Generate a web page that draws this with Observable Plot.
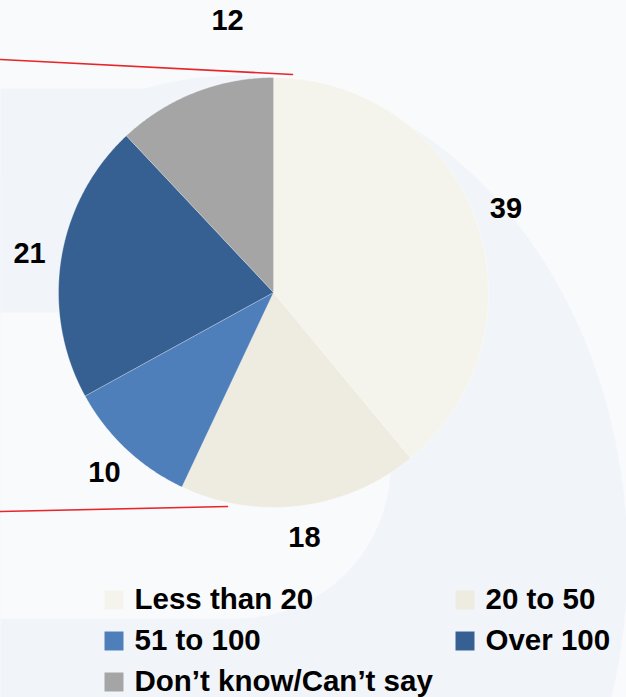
<!DOCTYPE html>
<html><head><meta charset="utf-8">
<script src="https://cdn.jsdelivr.net/npm/d3@7"></script>
<script src="https://cdn.jsdelivr.net/npm/@observablehq/plot@0.6"></script>
<style>
html,body{margin:0;padding:0;background:#f9fafc;}
#chart svg{display:block;}
</style></head><body><div id="chart"></div>
<script>
// ---- data ----
const categories = ["Less than 20", "20 to 50", "51 to 100", "Over 100", "Don’t know/Can’t say"];
const values = [39, 18, 10, 21, 12];
const colors = ["#f5f4ec", "#eeebe0", "#4e7fba", "#366091", "#a5a5a5"];

// ---- layout ----
const W = 626, H = 697;
const cx = 273, cy = 292, R = 215, LR = 247;
const pt = (a, r) => [cx + r * Math.sin(a), cy - r * Math.cos(a)];

const arcs = d3.pie().sort(null).value(d => d)(values);
const slices = arcs.map((a, i) => {
  const n = Math.max(2, Math.ceil((a.endAngle - a.startAngle) / (Math.PI / 360)));
  const ring = [[cx, cy]];
  for (let k = 0; k <= n; k++) ring.push(pt(a.startAngle + (a.endAngle - a.startAngle) * k / n, R));
  ring.push([cx, cy]);
  return {type: "Feature", properties: {category: categories[i], value: values[i]},
          geometry: {type: "Polygon", coordinates: [ring]}};
});
const labels = arcs.map((a, i) => {
  const [x, y] = pt((a.startAngle + a.endAngle) / 2, LR);
  return {x, y, text: String(values[i]), i};
});
const legend = categories.map((c, i) => ({category: c, col: i % 2, row: Math.floor(i / 2)}));

// decorative background shapes
const poly = pts => ({type: "Feature", properties: {}, geometry: {type: "Polygon", coordinates: [[...pts, pts[0]]]}});
const ellipse = poly(d3.range(0, 360, 2).map(t => [235 + 392 * Math.cos(t * Math.PI / 180), 560 + 485 * Math.sin(t * Math.PI / 180)]));
const band = poly([[0, 88], [300, 88], [300, 312], [0, 312]]);
const capsule = poly([[0, 312], ...d3.range(-90, 91, 3).map(t => [237 + 153 * Math.cos(t * Math.PI / 180), 465 + 153 * Math.sin(t * Math.PI / 180)]), [0, 618]]);
const redLines = [
  {type: "Feature", properties: {}, geometry: {type: "LineString", coordinates: [[0, 59], [292, 74]]}},
  {type: "Feature", properties: {}, geometry: {type: "LineString", coordinates: [[0, 511], [227, 506]]}}
];

const font = "Liberation Sans, Arial, Helvetica, sans-serif";
const chart = Plot.plot({
  width: W, height: H, margin: 0,
  projection: {type: "identity", domain: {type: "MultiPoint", coordinates: [[0, 0], [W, H]]}},
  color: {domain: categories, range: colors},
  style: {background: "#f9fafc", fontFamily: font},
  marks: [
    Plot.geo([ellipse], {fill: "#f1f4f9", stroke: "none"}),
    Plot.geo([band], {fill: "#f1f4f9", stroke: "none"}),
    Plot.geo([capsule], {fill: "#f9fafc", stroke: "none"}),
    Plot.geo(redLines, {stroke: "#e8262a", strokeWidth: 1.6, fill: "none"}),
    Plot.geo(slices, {fill: d => d.properties.category, stroke: "#ffffff", strokeOpacity: 0.5, strokeWidth: 0.6}),
    Plot.text(labels.filter(d => d.i !== 4), {x: "x", y: "y", text: "text", fontSize: 29, fontWeight: "bold", fill: "black", fontFamily: font}),
    Plot.text(labels.filter(d => d.i === 4), {x: "x", y: "y", text: "text", dx: 45, dy: -42, fontSize: 29, fontWeight: "bold", fill: "black", fontFamily: font}),
    Plot.dot(legend, {x: d => d.col ? 464.5 : 113.5, y: d => 599.5 + 41 * d.row, symbol: "square", r: 10.7, fill: "category", stroke: "none"}),
    Plot.text(legend, {x: d => d.col ? 485 : 134, y: d => 599.5 + 41 * d.row, text: "category", textAnchor: "start", fontSize: 29.5, fontWeight: "bold", fill: "black", fontFamily: font})
  ]
});
document.getElementById("chart").appendChild(chart);
</script>
</body></html>
